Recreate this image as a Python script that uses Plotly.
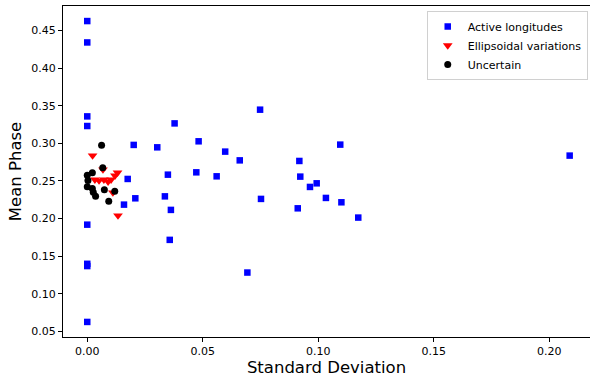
import plotly.graph_objects as go

# Mean phase vs. standard deviation for three classes of variability
active_sd = [0.0, 0.0, 0.0, 0.0, 0.0, 0.0, 0.0, 0.0,
             0.0201, 0.0175, 0.0208, 0.0159,
             0.0748, 0.0378, 0.0303, 0.0482, 0.0597, 0.0660, 0.0349, 0.0472,
             0.0560, 0.0336, 0.0362, 0.0357, 0.0693, 0.0752, 0.1095, 0.0918,
             0.0922, 0.0993, 0.0964, 0.1033, 0.1100, 0.0911, 0.1173, 0.2088]
active_phase = [0.4624, 0.4340, 0.3358, 0.3230, 0.1920, 0.1400, 0.1370, 0.0628,
                0.2979, 0.2527, 0.2270, 0.2186,
                0.3447, 0.3265, 0.2947, 0.3027, 0.2890, 0.2774, 0.2584, 0.2615,
                0.2562, 0.2296, 0.2116, 0.1718, 0.1284, 0.2262, 0.2983, 0.2766,
                0.2558, 0.2469, 0.2421, 0.2275, 0.2217, 0.2137, 0.2014, 0.2837]

ellip_sd = [0.0023, 0.0033, 0.0051, 0.0068, 0.0072, 0.0090, 0.0103, 0.0120,
            0.0131, 0.0111, 0.0133]
ellip_phase = [0.2837, 0.2518, 0.2505, 0.2651, 0.2518, 0.2491, 0.2518, 0.2571,
               0.2611, 0.2346, 0.2041]

unc_sd = [0.0062, 0.0067, 0.0022, 0.0, 0.0003, 0.0, 0.0022, 0.0026, 0.0036,
          0.0074, 0.0119, 0.0093]
unc_phase = [0.2973, 0.2677, 0.2611, 0.2575, 0.2505, 0.2425, 0.2399, 0.2352,
             0.2296, 0.2385, 0.2363, 0.2230]

x_ticks = [0.0, 0.05, 0.10, 0.15, 0.20]
y_ticks = [0.05, 0.10, 0.15, 0.20, 0.25, 0.30, 0.35, 0.40, 0.45]

FONT = "DejaVu Sans"

fig = go.Figure()
fig.add_trace(go.Scatter(
    x=active_sd, y=active_phase, mode="markers", name="Active longitudes",
    marker=dict(symbol="square", size=6.5, color="#0000ff", line=dict(width=0)),
))
fig.add_trace(go.Scatter(
    x=ellip_sd, y=ellip_phase, mode="markers", name="Ellipsoidal variations",
    marker=dict(symbol="triangle-down", size=8.5, color="#ff0000", line=dict(width=0)),
))
fig.add_trace(go.Scatter(
    x=unc_sd, y=unc_phase, mode="markers", name="Uncertain",
    marker=dict(symbol="circle", size=7, color="#000000", line=dict(width=0)),
))

axis_common = dict(
    showgrid=False, zeroline=False, showline=True, linecolor="black",
    linewidth=1, ticks="outside", ticklen=4, tickcolor="black", tickwidth=1,
    tickformat=".2f", tickfont=dict(family=FONT, size=11, color="black"),
)

fig.update_layout(
    width=590, height=383,
    margin=dict(l=63, r=0, t=6, b=46),
    paper_bgcolor="white", plot_bgcolor="white",
    font=dict(family=FONT, color="black"),
    xaxis=dict(
        **axis_common, range=[-0.0105, 0.2176], tickvals=x_ticks,
        mirror=True,
        title=dict(text="Standard Deviation", font=dict(family=FONT, size=16.5),
                   standoff=4),
    ),
    yaxis=dict(
        **axis_common, range=[0.0428, 0.4824], tickvals=y_ticks,
        title=dict(text="Mean Phase", font=dict(family=FONT, size=16.5),
                   standoff=5),
    ),
    legend=dict(
        x=0.9957, y=0.985, xanchor="right", yanchor="top",
        bgcolor="white", bordercolor="#d0d0d0", borderwidth=1,
        font=dict(family=FONT, size=11, color="black"),
        tracegroupgap=0, itemwidth=30,
    ),
    showlegend=True,
)

fig.write_html("out.html")
